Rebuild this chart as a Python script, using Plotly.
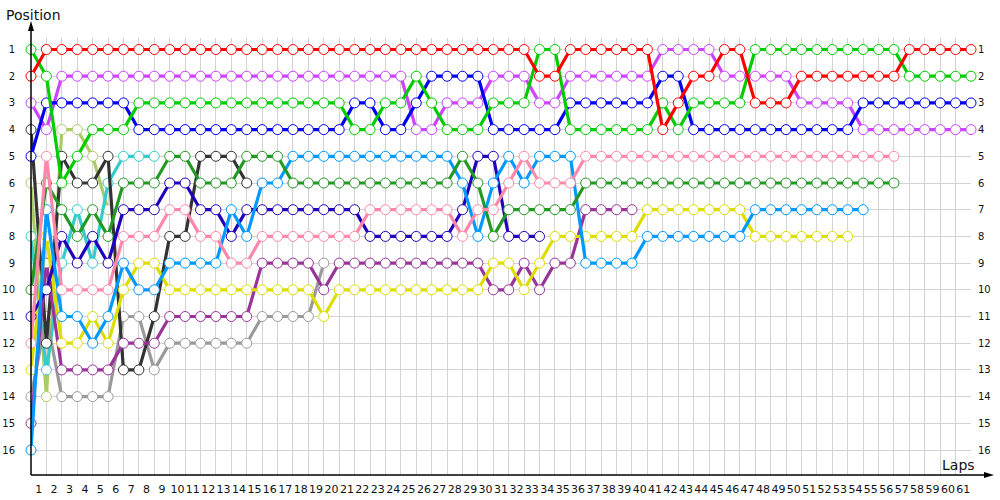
import plotly.graph_objects as go

N = None
TOTAL = 62
laps = list(range(0, TOTAL))          # lap 0 = grid, then laps 1..61
lap_labels = [str(i) for i in range(1, 62)]
positions = list(range(1, 17))

# positions per lap (lap 0 .. lap 61); None = retired
red = [2,1,1,1,1,1,1,1,1,1, 1,1,1,1,1,1,1,1,1,1, 1,1,1,1,1,1,1,1,1,1,
       1,1,1,2,2,1,1,1,1,1, 1,4,3,2,2,1,1,3,3,3, 2,2,2,2,2,2,2,1,1,1, 1,1]
green = [1,2,6,5,4,4,4,3,3,3, 3,3,3,3,3,3,3,3,3,3, 3,4,4,3,3,2,3,4,4,4,
         3,3,3,1,1,4,4,4,4,4, 4,3,4,3,3,3,3,1,1,1, 1,1,1,1,1,1,1,2,2,2, 2,2]
blue = [5,3,3,3,3,3,3,4,4,4, 4,4,4,4,4,4,4,4,4,4, 4,3,3,4,4,3,2,2,2,2,
        4,4,4,4,4,3,3,3,3,3, 3,2,2,4,4,4,4,4,4,4, 4,4,4,4,3,3,3,3,3,3, 3,3]
violet = [3,4,2,2,2,2,2,2,2,2, 2,2,2,2,2,2,2,2,2,2, 2,2,2,2,2,4,4,3,3,3,
          2,2,2,3,3,2,2,2,2,2, 2,1,1,1,1,2,2,2,2,2, 3,3,3,3,4,4,4,4,4,4, 4,4]
pink = [12,5,10,10,10,10,8,8,8,7, 7,8,8,9,9,8,8,8,8,8, 8,8,7,7,7,7,7,7,8,7,
        7,6,5,6,6,6,5,5,5,5, 5,5,5,5,5,5,5,5,5,5, 5,5,5,5,5,5,5]
darkgreen = [10,6,7,8,7,8,6,6,6,5, 5,6,6,6,5,5,5,6,6,6, 6,6,6,6,6,6,6,6,5,6,
             8,7,7,7,7,7,6,6,6,6, 6,6,6,6,6,6,6,6,6,6, 6,6,6,6,6,6,6]
skyblue = [16,7,11,11,12,11,9,10,10,9, 9,9,9,7,8,6,6,5,5,5, 5,5,5,5,5,5,5,5,6,8,
           6,5,6,5,5,5,9,9,9,9, 8,8,8,8,8,8,8,7,7,7, 7,7,7,7,7]
navy = [11,10,8,9,8,9,7,7,7,6, 6,7,7,8,7,7,7,7,7,7, 7,7,8,8,8,8,8,8,7,5,
        5,8,8,8]
yellow = [13,8,12,12,11,12,10,9,9,10, 10,10,10,10,10,10,10,10,10,11,
          10,10,10,10,10,10,10,10,10,10, 9,9,10,9,8,8,8,8,8,8,
          7,7,7,7,7,7,7,8,8,8, 8,8,8,8]
purple = [15,9,13,13,13,13,12,12,12,11, 11,11,11,11,11,9,9,9,9,10,
          9,9,9,9,9,9,9,9,9,9, 10,10,9,10,9,9,7,7,7,7]
gray = [14,11,14,14,14,14,11,11,13,12, 12,12,12,12,12,11,11,11,11,9]
black = [4,12,5,6,6,5,13,13,11,8, 8,5,5,5,6]
turquoise = [8,13,9,7,9,6,5,5,5]
olive = [6,14,4,4,5,7]

series = [
    ("olive", olive, "#aacc66"),
    ("turquoise", turquoise, "#33cccc"),
    ("gray", gray, "#9a9a9a"),
    ("black", black, "#333333"),
    ("purple", purple, "#993399"),
    ("yellow", yellow, "#dddd00"),
    ("navy", navy, "#2200bb"),
    ("skyblue", skyblue, "#0099ff"),
    ("darkgreen", darkgreen, "#229922"),
    ("pink", pink, "#ff88aa"),
    ("violet", violet, "#cc44ff"),
    ("blue", blue, "#0000ee"),
    ("green", green, "#00cc00"),
    ("red", red, "#ff0000"),
]

fig = go.Figure()
for name, vals, col in series:
    y = vals + [N] * (TOTAL - len(vals))
    fig.add_trace(go.Scatter(
        x=laps, y=y, mode="lines+markers", name=name,
        line=dict(color=col, width=3.2),
        marker=dict(symbol="circle", size=10, color="white",
                    line=dict(color=col, width=1)),
        cliponaxis=False, connectgaps=False, showlegend=False,
    ))

# geometry helpers (pixels -> paper)
L, R, T, B = 31, 971, 38, 475
W, H = R - L, B - T
def px(x):
    return (x - L) / W
def py(y):
    return (B - y) / H

FONT = "DejaVu Sans"
grid = "#d3d3d3"
yr = [16.936, 0.569]

fig.update_layout(
    width=1000, height=500,
    margin=dict(l=L, r=1000 - R, t=T, b=500 - B, autoexpand=False),
    paper_bgcolor="white", plot_bgcolor="white",
    font=dict(family=FONT, size=11, color="#111"),
    xaxis=dict(range=[0, 61], tickvals=[i + 0.5 for i in range(61)],
               ticktext=lap_labels, showgrid=False, zeroline=False,
               showline=False, ticks="outside", ticklen=4,
               tickcolor="rgba(0,0,0,0)", tickangle=0, automargin=False,
               minor=dict(tick0=0, dtick=1, showgrid=True, gridcolor=grid,
                          gridwidth=1),
               tickfont=dict(size=11, family=FONT)),
    yaxis=dict(range=yr, tickvals=positions, ticktext=[str(p) for p in positions],
               showgrid=True, gridcolor=grid, gridwidth=1, zeroline=False,
               showline=False, ticks="outside", ticklen=13, automargin=False,
               tickcolor="rgba(0,0,0,0)", tickfont=dict(size=10, family=FONT)),
    yaxis2=dict(range=yr, tickvals=positions, ticktext=[str(p) for p in positions],
                overlaying="y", side="right", anchor="x", showgrid=False,
                zeroline=False, showline=False, ticks="outside", ticklen=4,
                automargin=False,
                tickcolor="rgba(0,0,0,0)", tickfont=dict(size=10, family=FONT)),
    shapes=[
        dict(type="line", xref="paper", yref="paper", x0=0, x1=0,
             y0=0, y1=py(24), line=dict(color="black", width=1.5)),
        dict(type="line", xref="paper", yref="paper", x0=0, x1=px(990),
             y0=0, y1=0, line=dict(color="black", width=1.5)),
        dict(type="path", xref="paper", yref="paper",
             path=f"M {px(31)} {py(21)} L {px(28)} {py(31)} L {px(34)} {py(31)} Z",
             fillcolor="black", line=dict(color="black", width=0)),
        dict(type="path", xref="paper", yref="paper",
             path=f"M {px(994)} {py(475)} L {px(984)} {py(472)} L {px(984)} {py(478)} Z",
             fillcolor="black", line=dict(color="black", width=0)),
    ],
    annotations=[
        dict(text="Position", xref="paper", yref="paper", x=px(4), y=py(15),
             xanchor="left", yanchor="middle", showarrow=False,
             font=dict(size=14, family=FONT, color="#111")),
        dict(text="Laps", xref="paper", yref="paper", x=px(958), y=py(465),
             xanchor="center", yanchor="middle", showarrow=False,
             font=dict(size=14, family=FONT, color="#111")),
    ],
)
# empty trace to bind the right-hand axis
fig.add_trace(go.Scatter(x=[], y=[], yaxis="y2", showlegend=False, hoverinfo="skip"))

fig.write_html("out.html", config={"displayModeBar": False},
               post_script="document.body.style.margin='0';document.body.style.overflow='hidden';")
